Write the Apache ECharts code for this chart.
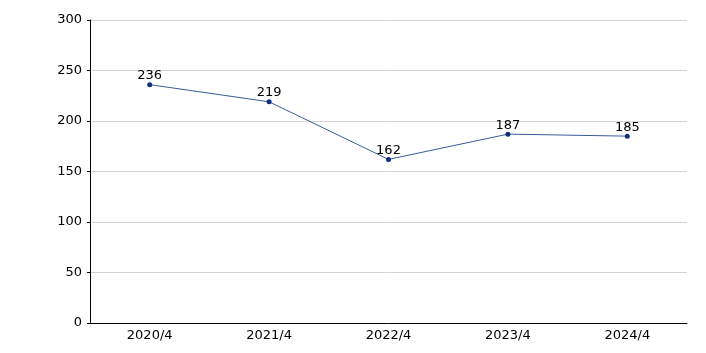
<!DOCTYPE html>
<html>
<head>
<meta charset="utf-8">
<script src="https://cdn.jsdelivr.net/npm/echarts@6/dist/echarts.min.js"></script>
</head>
<body style="margin:0">
<div id="main" style="width:706px;height:353px;"></div>
<script>
var categories = ['2020/4', '2021/4', '2022/4', '2023/4', '2024/4'];
var values = [236, 219, 162, 187, 185];

var chart = echarts.init(document.getElementById('main'));
chart.setOption({
    animation: false,
    textStyle: { fontFamily: 'DejaVu Sans' },
    grid: { left: 90, right: 19, top: 20, bottom: 30 },
    xAxis: {
        type: 'category',
        data: categories,
        axisLine: { lineStyle: { color: '#000', width: 1 } },
        axisTick: { alignWithLabel: true, length: 4, lineStyle: { color: '#000' } },
        axisLabel: { color: '#000', fontSize: 13, margin: 6 },
        splitLine: { show: false }
    },
    yAxis: {
        type: 'value',
        min: 0, max: 300, interval: 50,
        axisLine: { show: true, lineStyle: { color: '#000', width: 1 } },
        axisTick: { show: true, length: 3, lineStyle: { color: '#000' } },
        axisLabel: { color: '#000', fontSize: 13, margin: 8 },
        splitLine: { lineStyle: { color: '#d4d4d4', width: 1 } }
    },
    series: [{
        type: 'line',
        data: values,
        symbol: 'circle',
        symbolSize: 5,
        itemStyle: { color: '#0d2f7c' },
        lineStyle: { color: '#3a5a99', width: 1 },
        label: { show: true, position: 'top', distance: 0, color: '#000', fontSize: 13 }
    }]
});
</script>
</body>
</html>
